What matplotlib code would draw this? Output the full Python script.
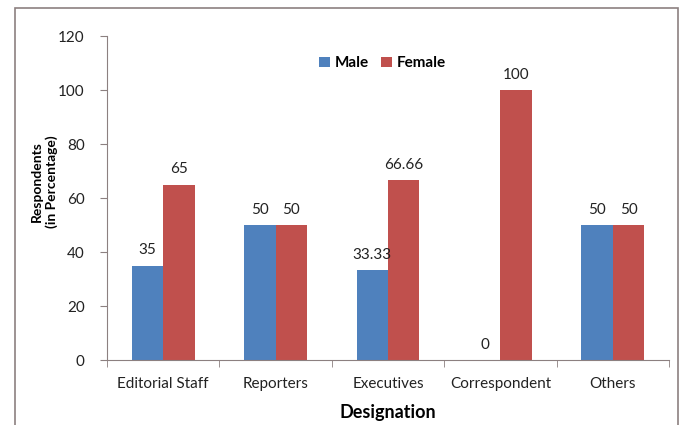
import matplotlib
matplotlib.use("Agg")
import matplotlib.pyplot as plt
from matplotlib.patches import Rectangle
import numpy as np

plt.rcParams['font.family'] = ['Lato', 'DejaVu Sans']

categories = ["Editorial Staff", "Reporters", "Executives", "Correspondent", "Others"]
male = [35, 50, 33.33, 0, 50]
female = [65, 50, 66.66, 100, 50]
male_labels = ["35", "50", "33.33", "0", "50"]
female_labels = ["65", "50", "66.66", "100", "50"]
yticks = [0, 20, 40, 60, 80, 100, 120]

fig = plt.figure(figsize=(6.86, 4.25), dpi=100)
ax = fig.add_axes([107/686, 1-360/425, (669-107)/686, (360-36)/425])

x = np.arange(len(categories))
w = 0.28
c_m = "#4F81BD"
c_f = "#C0504D"
ax.bar(x - w/2, male, w, color=c_m, label="Male")
ax.bar(x + w/2, female, w, color=c_f, label="Female")

for xi, v, t in zip(x, male, male_labels):
    ax.annotate(t, (xi - w/2, v), xytext=(0, 6), textcoords="offset points",
                ha="center", va="bottom", fontsize=11, color="#222222")
for xi, v, t in zip(x, female, female_labels):
    ax.annotate(t, (xi + w/2, v), xytext=(0, 6), textcoords="offset points",
                ha="center", va="bottom", fontsize=11, color="#222222")

ax.set_xlim(-0.5, len(categories) - 0.5)
ax.set_ylim(0, 120)
ax.set_yticks(yticks)
ax.set_yticklabels([str(t) for t in yticks], fontsize=11, color="#222222")
ax.set_xticks(x)
ax.set_xticklabels(categories, fontsize=11, color="#222222")
ax.tick_params(axis='x', length=0, pad=12)
ax.set_xticks(np.arange(len(categories) + 1) - 0.5, minor=True)
ax.tick_params(axis='x', which='minor', length=5, color="#8c8080", direction='out')
ax.tick_params(axis='y', length=5, color="#8c8080", direction='out', pad=11)

for s in ["top", "right"]:
    ax.spines[s].set_visible(False)
for s in ["left", "bottom"]:
    ax.spines[s].set_color("#8c8080")

ax.set_ylabel("Respondents\n(in Percentage)", fontsize=10, fontweight="bold")
ax.yaxis.set_label_coords(-0.087, 0.55)
ax.set_xlabel("Designation", fontsize=13, fontweight="bold")
ax.xaxis.set_label_coords(0.5, -0.135)

leg = ax.legend(loc="upper center", bbox_to_anchor=(0.49, 0.98), ncol=2, frameon=False,
                prop={'weight': 'bold', 'size': 11}, handlelength=0.7, handleheight=0.7,
                handletextpad=0.3, columnspacing=0.8)

fig.patches.append(Rectangle((15/686, -0.05), (678-15)/686, 1.05 - 8/425,
                             transform=fig.transFigure, fill=False,
                             edgecolor="#8c8080", linewidth=1.2))

fig.savefig("out.png", dpi=100)
